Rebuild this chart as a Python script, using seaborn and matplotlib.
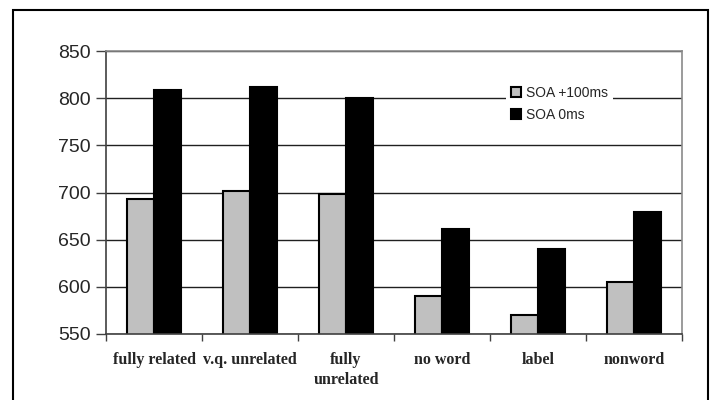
import pandas as pd
import matplotlib.pyplot as plt
import seaborn as sns
import numpy as np
from matplotlib.patches import Rectangle

# values (reaction times, ms)
conditions = ['fully related', 'v.q. unrelated', 'fully\nunrelated', 'no word', 'label', 'nonword']
soa_100 = [693, 702, 698, 590, 570, 605]
soa_0 = [809, 812, 800, 661, 640, 679]
series = ['SOA +100ms', 'SOA 0ms']

df = pd.DataFrame({
    'condition': conditions * 2,
    'rt': soa_100 + soa_0,
    'soa': [series[0]] * len(conditions) + [series[1]] * len(conditions),
})

sns.set_style('white')
plt.rcParams['font.family'] = ['Liberation Sans', 'DejaVu Sans']

fig = plt.figure(figsize=(7.12, 4.0), dpi=100)
ax = fig.add_axes([0.1489, 0.165, 0.809, 0.7075])

sns.barplot(data=df, x='condition', y='rt', hue='soa', order=conditions,
            hue_order=series, palette={series[0]: '#c0c0c0', series[1]: 'black'},
            width=0.57, gap=0, edgecolor='black', linewidth=1.5, saturation=1,
            errorbar=None, ax=ax)

ax.set_ylim(550, 850)
ax.set_xlim(-0.5, len(conditions) - 0.5)
ax.set_yticks(np.arange(550, 851, 50))
ax.yaxis.grid(True, color='#202020', linewidth=1)
ax.set_axisbelow(True)
ax.set_xlabel('')
ax.set_ylabel('')

# category labels without ticks, boundary ticks as minor ticks
ax.set_xticks(range(len(conditions)))
ax.set_xticks(np.arange(-0.5, len(conditions)), minor=True)
ax.tick_params(axis='x', which='major', length=0, pad=13)
ax.tick_params(axis='x', which='minor', length=5, width=1, color='#404040', direction='out', bottom=True)
for lbl in ax.get_xticklabels():
    lbl.set_fontfamily('Liberation Serif')
    lbl.set_fontweight('bold')
    lbl.set_fontsize(11.5)
    lbl.set_linespacing(1.3)
ax.tick_params(axis='y', length=7, width=1, color='#404040', direction='out', left=True,
               labelsize=14, pad=4)

for side in ['left', 'bottom']:
    ax.spines[side].set_color('#404040')
    ax.spines[side].set_linewidth(1.2)
for side in ['top', 'right']:
    ax.spines[side].set_color('#8a8a8a')
    ax.spines[side].set_linewidth(1.2)

leg = ax.legend(loc='upper left', bbox_to_anchor=(0.695, 0.895), frameon=True,
                fontsize=10, handlelength=0.7, handleheight=0.7, handletextpad=0.4,
                labelspacing=0.6, borderpad=0.35, borderaxespad=0)
leg.get_frame().set_facecolor('white')
leg.get_frame().set_edgecolor('none')
leg.get_frame().set_alpha(1)
for h in leg.legend_handles:
    h.set_edgecolor('black')
    h.set_linewidth(1.5)

# outer frame around the whole chart
fig.patches.append(Rectangle((13 / 712, -0.05), 695 / 712, 1.025, transform=fig.transFigure,
                             fill=False, edgecolor='black', linewidth=1.5))

plt.savefig('out.png', dpi=100)
